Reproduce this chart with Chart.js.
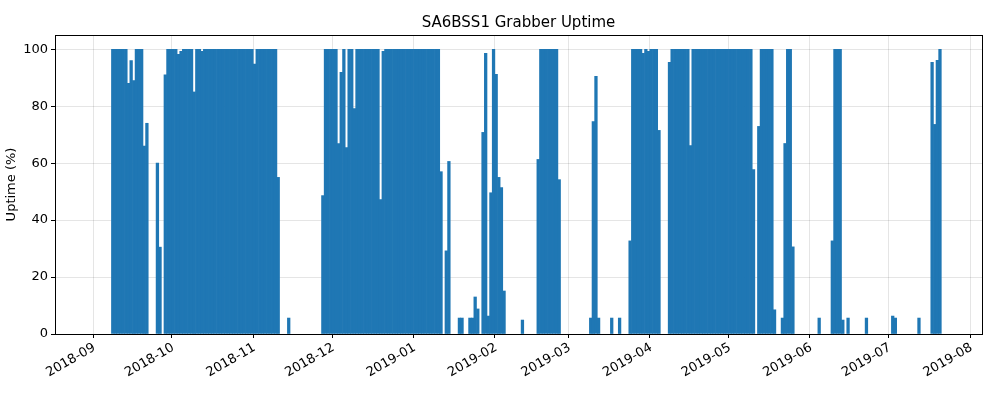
<!DOCTYPE html>
<html><head><meta charset="utf-8">
<script src="https://cdn.jsdelivr.net/npm/chart.js@4"></script>
<style>html,body{margin:0;padding:0;background:#fff}#wrap{width:1000px;height:400px}</style>
</head><body><div id="wrap"><canvas id="c" width="1000" height="400"></canvas></div>
<script>
// Day 0 = 2018-09-01. Runs of consecutive days: [firstDay, lastDay, uptime%]
const runStart = [7,13,14,15,16,19,20,24,25,27,28,32,33,34,38,39,41,42,61,62,70,74,87,88,93,94,95,96,97,99,100,109,110,111,132,134,135,139,143,145,146,148,149,150,151,152,153,154,155,156,163,169,170,177,189,190,191,192,197,200,204,205,209,210,211,212,215,219,220,227,228,251,253,254,259,262,263,264,266,276,281,282,285,287,294,304,305,314,319,320,321,322];
const runEnd   = [12,13,14,15,18,19,20,24,25,27,31,32,33,37,38,40,41,60,61,69,70,74,87,92,93,94,95,96,98,99,108,109,110,131,132,134,135,140,144,145,146,148,149,150,151,152,153,154,155,156,163,169,176,177,189,190,191,192,197,200,204,208,209,210,211,214,215,219,226,227,250,251,253,258,259,262,263,265,266,276,281,284,285,287,294,304,305,314,319,320,321,322];
const runValue = [100,88,96,89,100,66,74,60,30.5,91,100,98.2,99.3,100,85,100,99.3,100,94.8,100,55,5.6,48.6,100,66.9,91.9,100,65.5,100,79.2,100,47.2,99.3,100,57,29.2,60.6,5.6,5.6,13,8.8,70.8,98.6,6.3,49.6,100,91.2,55,51.4,15.1,4.9,61.3,100,54.2,5.6,74.6,90.5,5.6,5.6,5.6,32.7,100,98.6,100,99.3,100,71.5,95.4,100,66.2,100,57.7,72.9,100,8.5,5.6,66.9,100,30.6,5.6,32.7,100,4.9,5.6,5.6,6.3,5.6,5.6,95.4,73.6,96.1,100];
const monthStarts = {0:'2018-09',30:'2018-10',61:'2018-11',91:'2018-12',122:'2019-01',153:'2019-02',181:'2019-03',212:'2019-04',242:'2019-05',273:'2019-06',303:'2019-07',334:'2019-08'};
const yTicks = [0,20,40,60,80,100];

const firstDay = -15, lastDay = 338;
const labels = [], values = [];
for (let d = firstDay; d <= lastDay; d++) { labels.push(d); values.push(null); }
runStart.forEach((s,i)=>{ for (let d=s; d<=runEnd[i]; d++) values[d-firstDay] = runValue[i]; });

const isMonth = ctx => ctx.tick && monthStarts[labels[ctx.index]] !== undefined;
const FONT = 'DejaVu Sans';

const frame = {
  id:'frame',
  afterDraw(ch){
    const {ctx, chartArea:a} = ch;
    ctx.save();
    ctx.strokeStyle='#000'; ctx.lineWidth=1;
    ctx.strokeRect(Math.round(a.left)+0.5, Math.round(a.top)+0.5, Math.round(a.right-a.left), Math.round(a.bottom-a.top));
    ctx.fillStyle='#000'; ctx.font='15px '+FONT; ctx.textAlign='center'; ctx.textBaseline='alphabetic';
    ctx.fillText('SA6BSS1 Grabber Uptime', (a.left+a.right)/2, 27);
    ctx.restore();
  }
};

new Chart(document.getElementById('c'), {
  type:'bar',
  data:{labels, datasets:[{data:values, backgroundColor:'#1f77b4', barPercentage:1, categoryPercentage:1, borderWidth:0}]},
  options:{
    responsive:false, animation:false,
    layout:{padding:{top:35, right:18, left:0, bottom:0}},
    plugins:{legend:{display:false}, title:{display:false}, tooltip:{enabled:false}},
    scales:{
      x:{
        offset:false,
        afterFit(s){ s.height = 66; },
        border:{display:false},
        grid:{
          color: ctx => isMonth(ctx) ? 'rgba(0,0,0,0.1)' : 'rgba(0,0,0,0)',
          tickColor: ctx => isMonth(ctx) ? '#000' : 'rgba(0,0,0,0)',
          tickLength:4, drawTicks:true, lineWidth:1, borderDash:[4,3]
        },
        ticks:{
          autoSkip:false, maxRotation:30, minRotation:30, padding:2,
          color:'#000', font:{family:FONT, size:13},
          callback:(v,i)=> monthStarts[labels[i]] !== undefined ? monthStarts[labels[i]] : ''
        }
      },
      y:{
        min:0, max:105,
        afterFit(s){ s.width = 55; },
        afterBuildTicks(s){ s.ticks = yTicks.map(v=>({value:v})); },
        border:{display:false},
        grid:{color:'rgba(0,0,0,0.1)', tickColor:'#000', tickLength:4, borderDash:[4,3]},
        ticks:{color:'#000', font:{family:FONT, size:13}, padding:3},
        title:{display:true, text:'Uptime (%)', color:'#000', font:{family:FONT, size:13}, padding:{bottom:2}}
      }
    }
  },
  plugins:[frame]
});
</script></body></html>
